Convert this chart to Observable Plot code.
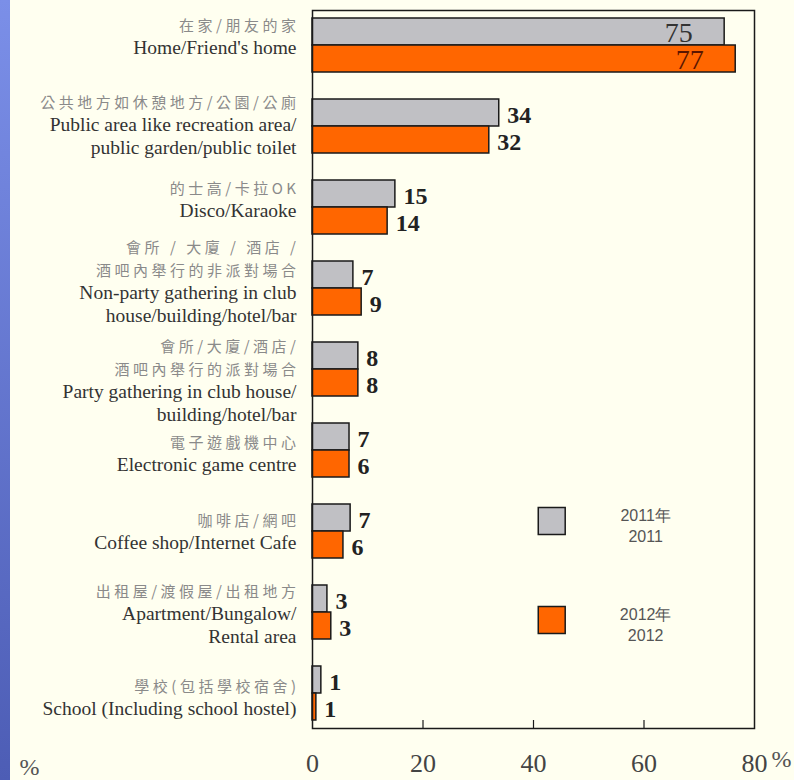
<!DOCTYPE html>
<html><head><meta charset="utf-8">
<script src="https://cdn.jsdelivr.net/npm/d3@7"></script>
<script src="https://cdn.jsdelivr.net/npm/@observablehq/plot@0.6"></script>
<style>
html,body{margin:0;padding:0;background:#fffff0;}
#wrap{position:relative;width:794px;height:780px;overflow:hidden;background:#fffff0;}
#strip{position:absolute;left:0;top:0;width:10px;height:780px;background:linear-gradient(#7b8fe8,#4d5db5);}
#chart{position:absolute;left:0;top:0;}
g[aria-description="zh-label"] text, g[aria-description="zh-label"] tspan{letter-spacing:3.5px;}
</style></head><body>
<div id="wrap"><div id="strip"></div><div id="chart"></div></div>
<script>
const years = ["2011", "2012"];
const yearsZh = ["2011年", "2012年"];
const categoriesZh = [
  "在家/朋友的家",
  "公共地方如休憩地方/公園/公廁",
  "的士高/卡拉OK",
  "會所 / 大廈 / 酒店 /\n酒吧內舉行的非派對場合",
  "會所/大廈/酒店/\n酒吧內舉行的派對場合",
  "電子遊戲機中心",
  "咖啡店/網吧",
  "出租屋/渡假屋/出租地方",
  "學校(包括學校宿舍)"
];
const categoriesEn = [
  "Home/Friend's home",
  "Public area like recreation area/\npublic garden/public toilet",
  "Disco/Karaoke",
  "Non-party gathering in club\nhouse/building/hotel/bar",
  "Party gathering in club house/\nbuilding/hotel/bar",
  "Electronic game centre",
  "Coffee shop/Internet Cafe",
  "Apartment/Bungalow/\nRental area",
  "School (Including school hostel)"
];
const values2011 = [74.6, 33.8, 15.0, 7.4, 8.3, 6.7, 6.9, 2.7, 1.6];
const values2012 = [76.6, 32.0, 13.6, 8.9, 8.3, 6.7, 5.6, 3.4, 0.7];
const labels2011 = [75, 34, 15, 7, 8, 7, 7, 3, 1];
const labels2012 = [77, 32, 14, 9, 8, 6, 6, 3, 1];
const xTicks = [0, 20, 40, 60, 80];

// layout (not data)
const W = 794, H = 780, mt = 10, mb = 52, ml = 312, mr = 40, po = 0.18;
const labelNudge = [-10, -3, -9.5, -8, 10, 2, -1.5, 0, 3];
const n = categoriesEn.length;
const slots = categoriesEn.flatMap((c, i) => i < n - 1 ? [`${i}-2011`, `${i}-2012`, `${i}-gap`] : [`${i}-2011`, `${i}-2012`]);
const bw = (H - mt - mb) / (slots.length + 2 * po);

const rows = categoriesEn.flatMap((c, i) => [
  {i, year: "2011", slot: `${i}-2011`, value: values2011[i], label: labels2011[i]},
  {i, year: "2012", slot: `${i}-2012`, value: values2012[i], label: labels2012[i]}
]);
const NB = "\u00a0";
const cats = categoriesEn.map((en, i) => {
  const zh = categoriesZh[i].split("\n");
  const enL = en.split("\n");
  return {
    slot: `${i}-2011`,
    zh: zh.concat(enL.map(() => NB)).join("\n"),
    en: zh.map(() => NB).concat(enL).join("\n")
  };
});
const lineH = 23;
const serif = "Liberation Serif, Times New Roman, serif";
const cjk = "Noto Sans CJK TC, Noto Sans CJK SC, sans-serif";
const enSize = 19.5, zhSize = 15;

const labelMarks = cats.flatMap((c, i) => [
  Plot.text([c], {y: "slot", text: "zh", frameAnchor: "left", textAnchor: "end", lineAnchor: "middle", dx: -13, dy: bw / 2 + labelNudge[i], fontSize: zhSize, lineHeight: lineH / zhSize, fontFamily: cjk, fill: "#8a8a8a", ariaDescription: "zh-label"}),
  Plot.text([c], {y: "slot", text: "en", frameAnchor: "left", textAnchor: "end", lineAnchor: "middle", dx: -16, dy: bw / 2 + labelNudge[i], fontSize: enSize, lineHeight: lineH / enSize, fontFamily: serif, fill: "#333"})
]);

const legendSlots = ["6-2011", "7-2012"];
const legendDy = [3, -6];
const legendX = 43.3, legendTextX = 60.3;
const legendMarks = years.flatMap((y, k) => [
  Plot.dot([{year: y, slot: legendSlots[k]}], {x: () => legendX, y: "slot", fill: "year", symbol: "square", r: 15.2, stroke: "#1a1a1a", strokeWidth: 1.5, dy: legendDy[k]}),
  Plot.text([{slot: legendSlots[k], t: yearsZh[k] + "\n" + y}], {x: () => legendTextX, y: "slot", text: "t", dy: legendDy[k] + 4, fontSize: 16, lineHeight: 1.3, fontFamily: "Liberation Sans, Arial, sans-serif", fill: "#555"})
]);

const chart = Plot.plot({
  width: W, height: H,
  marginTop: mt, marginBottom: mb, marginLeft: ml, marginRight: mr,
  style: {background: "transparent", overflow: "visible"},
  x: {domain: [0, 80]},
  y: {type: "band", domain: slots, paddingInner: 0, paddingOuter: po, axis: null},
  color: {domain: years, range: ["#c0c0c4", "#ff6600"]},
  marks: [
    Plot.barX(rows, {x: "value", y: "slot", fill: "year", stroke: "#1a1a1a", strokeWidth: 1.5}),
    Plot.text(rows.filter(d => d.i > 0), {x: "value", y: "slot", text: "label", dx: 8, dy: 2, textAnchor: "start", fontSize: 24, fontWeight: "bold", fontFamily: serif, fill: "#222"}),
    Plot.text(rows.filter(d => d.i === 0), {x: "value", y: "slot", text: "label", dx: -32, dy: 1, textAnchor: "end", fontSize: 28, fontFamily: serif, fill: d => d.year === "2011" ? "#333" : "#5a1500"}),
    ...labelMarks,
    ...legendMarks,
    Plot.frame({stroke: "#1a1a1a", strokeWidth: 1.5}),
    Plot.axisX(xTicks.slice(1, -1), {tickSize: -8, tickFormat: () => "", label: null, stroke: "#1a1a1a", strokeWidth: 1.2}),
    Plot.axisX(xTicks, {tickSize: 0, tickPadding: 25, label: null, fontSize: 26, fontFamily: serif, fill: "#444"}),
    Plot.text(["%"], {text: d => d, frameAnchor: "bottom-right", textAnchor: "middle", lineAnchor: "middle", dx: 27, dy: 31, fontSize: 24, fontFamily: serif, fill: "#555"}),
    Plot.text(["%"], {text: d => d, frameAnchor: "bottom-left", textAnchor: "middle", lineAnchor: "middle", dx: -283, dy: 39, fontSize: 24, fontFamily: serif, fill: "#555"})
  ]
});
document.getElementById("chart").appendChild(chart);
</script>
</body></html>
